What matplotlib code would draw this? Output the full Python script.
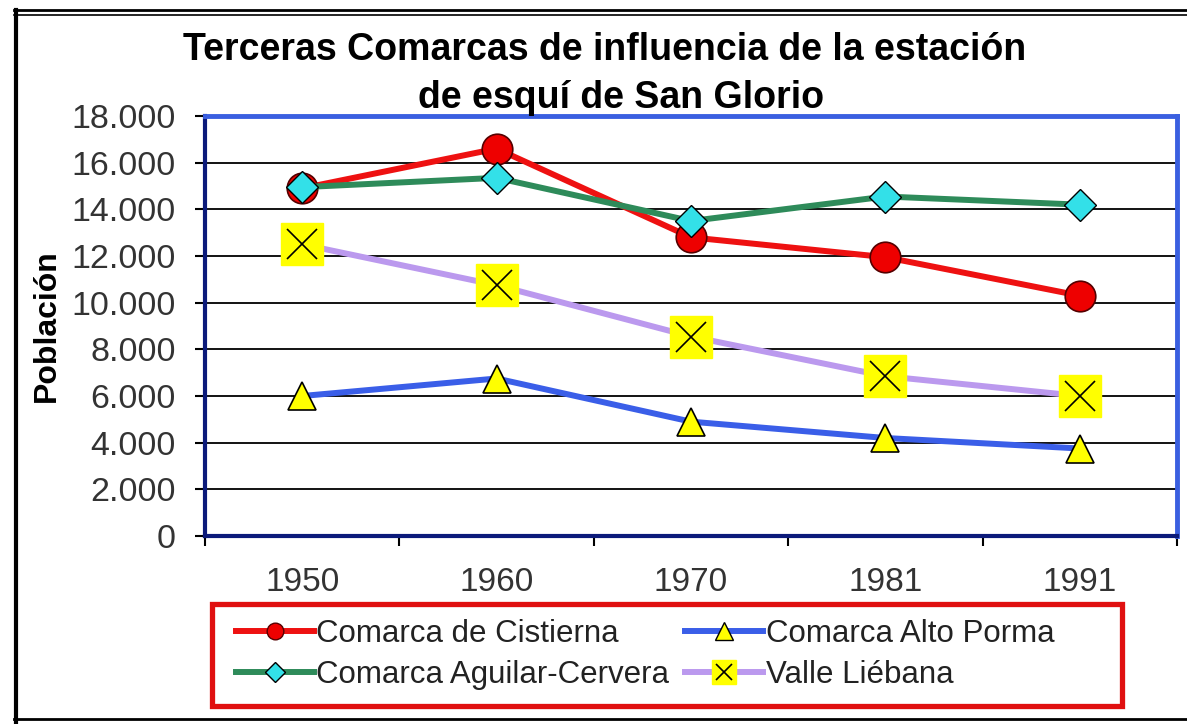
import matplotlib
matplotlib.use("Agg")
import matplotlib.pyplot as plt
from matplotlib.lines import Line2D
from matplotlib.patches import Rectangle
from matplotlib.ticker import FuncFormatter, FixedLocator

plt.rcParams['font.family'] = ['Liberation Sans', 'DejaVu Sans']

# datos
years = ['1950', '1960', '1970', '1981', '1991']
cistierna = [14900, 16600, 12800, 11950, 10300]
alto_porma = [6000, 6750, 4900, 4200, 3750]
aguilar = [14950, 15350, 13500, 14550, 14200]
liebana = [12500, 10750, 8550, 6850, 6000]

labels = ['Comarca de Cistierna', 'Comarca Alto Porma',
          'Comarca Aguilar-Cervera', 'Valle Liébana']

W, H = 1187, 724
fig = plt.figure(figsize=(W / 100, H / 100), dpi=100)
ax = fig.add_axes([205 / W, 188 / H, 972 / W, 420 / H])

x = list(range(len(years)))

ax.plot(x, cistierna, color='#ee1111', lw=4.3, marker='o', ms=22,
        mfc='#ee0000', mec='#550000', mew=1.2, zorder=3)
ax.plot(x, alto_porma, color='#3a5ee8', lw=4.3, marker='^', ms=20,
        mfc='#ffff00', mec='black', mew=1.2, zorder=3)
ax.plot(x, aguilar, color='#2e8b5a', lw=4.3, marker='D', ms=16.5,
        mfc='#33e0e8', mec='black', mew=1.0, zorder=4)
ax.plot(x, liebana, color='#bb99ee', lw=4.3, marker='s', ms=30,
        mfc='#ffff00', mec='#ffff00', zorder=3)
ax.plot(x, liebana, ls='none', marker='x', ms=22, mec='black', mew=1.2, zorder=3.5)

ax.set_xlim(-0.5, len(years) - 0.5)
ax.set_ylim(0, 18000)
ax.set_yticks(range(0, 18001, 2000))
ax.yaxis.set_major_formatter(FuncFormatter(lambda v, p: f"{int(v):,}".replace(',', '.')))
ax.grid(axis='y', color='black', lw=1.3, zorder=1)

ax.set_xticks(x)
ax.set_xticklabels(years)
ax.xaxis.set_minor_locator(FixedLocator([i - 0.5 for i in range(len(years) + 1)]))
ax.tick_params(axis='x', which='major', length=0, pad=22, labelsize=24, labelcolor='#333333')
ax.tick_params(axis='x', which='minor', length=7, width=1.5, color='black')
ax.tick_params(axis='y', length=7, width=1.5, color='black', pad=14,
               labelsize=24.5, labelcolor='#333333')

for s in ['left', 'bottom']:
    ax.spines[s].set_color('#0b1a7a')
    ax.spines[s].set_linewidth(3)
for s in ['top', 'right']:
    ax.spines[s].set_color('#3a5fe0')
    ax.spines[s].set_linewidth(3.5)

ax.set_ylabel('Población', fontsize=23, fontweight='bold')
ax.yaxis.set_label_coords(-143 / 972, 0.5)

fig.text(605 / W, 1 - 60 / H, 'Terceras Comarcas de influencia de la estación',
         ha='center', va='baseline', fontsize=27, fontweight='bold')
fig.text(621 / W, 1 - 108 / H, 'de esquí de San Glorio',
         ha='center', va='baseline', fontsize=27, fontweight='bold')

# leyenda
h_cis = Line2D([], [], color='#ee1111', lw=4.3, marker='o', ms=12, mfc='#ee0000', mec='#550000')
h_agu = Line2D([], [], color='#2e8b5a', lw=4.3, marker='D', ms=10, mfc='#33e0e8', mec='black')
h_por = Line2D([], [], color='#3a5ee8', lw=4.3, marker='^', ms=13, mfc='#ffff00', mec='black')
h_lie1 = Line2D([], [], color='#bb99ee', lw=4.3, marker='s', ms=17, mfc='#ffff00', mec='#ffff00')
h_lie2 = Line2D([], [], ls='none', marker='x', ms=12, mec='black', mew=1.2)
leg = fig.legend([h_cis, h_agu, h_por, (h_lie1, h_lie2)],
                 [labels[0], labels[2], labels[1], labels[3]],
                 ncol=2, frameon=False, loc='upper left',
                 bbox_to_anchor=(214 / W, 1 - 597 / H),
                 fontsize=22.5, handlelength=2.5, handletextpad=0.08,
                 columnspacing=0.5, labelspacing=0.35, borderpad=0.2)
for t in leg.get_texts():
    t.set_color('#222222')

fig.add_artist(Rectangle((212 / W, 1 - 706 / H), 910 / W, 102 / H, transform=fig.transFigure,
                         fill=False, edgecolor='#e01010', lw=3.8))

# marco exterior
fig.add_artist(Line2D([16 / W, 16 / W], [0, 1 - 10 / H], transform=fig.transFigure, color='black', lw=3))
fig.add_artist(Line2D([14 / W, 1], [1 - 10 / H, 1 - 10 / H], transform=fig.transFigure, color='black', lw=2))
fig.add_artist(Line2D([14 / W, 1], [1 - 15 / H, 1 - 15 / H], transform=fig.transFigure, color='black', lw=1.2))
fig.add_artist(Line2D([14 / W, 1], [1 - 719 / H, 1 - 719 / H], transform=fig.transFigure, color='black', lw=2))

fig.savefig('out.png', dpi=100)
